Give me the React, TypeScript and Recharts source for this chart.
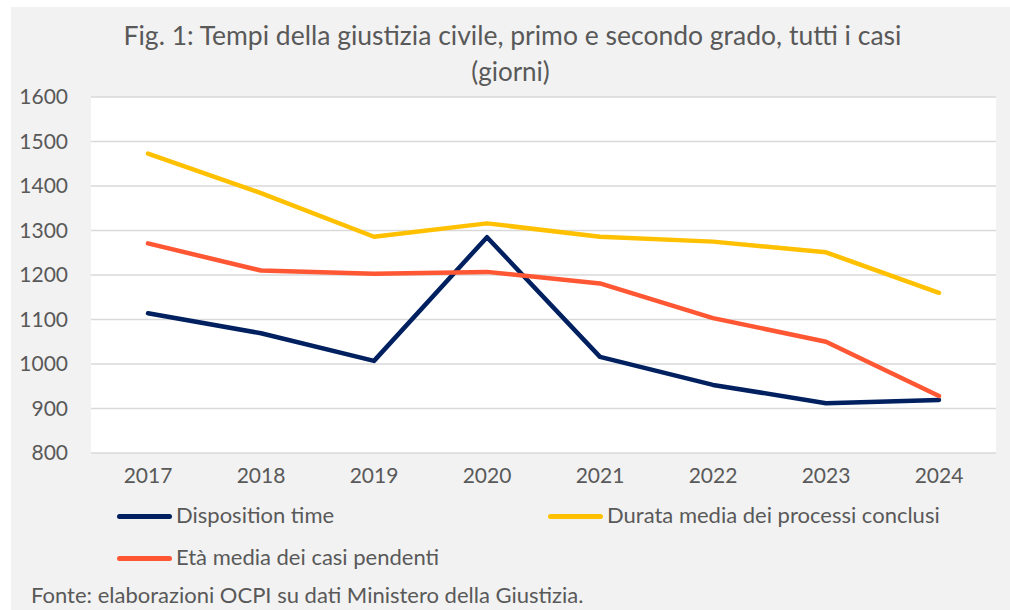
import { CartesianGrid, Legend, Line, LineChart, XAxis, YAxis } from "recharts";

const years = ["2017", "2018", "2019", "2020", "2021", "2022", "2023", "2024"];
const dispositionTime = [1114, 1069, 1007, 1285, 1016, 953, 912, 919];
const durataMedia = [1473, 1384, 1286, 1316, 1286, 1275, 1251, 1160];
const etaMedia = [1271, 1210, 1203, 1207, 1181, 1103, 1050, 928];
const yTicks = [800, 900, 1000, 1100, 1200, 1300, 1400, 1500, 1600];

const seriesNames = {
  disposition: "Disposition time",
  durata: "Durata media dei processi conclusi",
  eta: "Età media dei casi pendenti",
};

const NAVY = "#002060";
const YELLOW = "#ffc000";
const ORANGE = "#ff5733";
const TEXT = "#595959";
const FONT = "Lato, 'Open Sans', sans-serif";

const data = years.map((year, i) => ({
  year,
  disposition: dispositionTime[i],
  durata: durataMedia[i],
  eta: etaMedia[i],
}));

function LegendBox() {
  const items = [
    { label: seriesNames.disposition, color: NAVY, x: 106, y: 509 },
    { label: seriesNames.durata, color: YELLOW, x: 537, y: 509 },
    { label: seriesNames.eta, color: ORANGE, x: 106, y: 551 },
  ];
  return (
    <div style={{ position: "relative", width: 999, height: 1 }}>
      {items.map((it) => (
        <div key={it.label}>
          <div
            style={{
              position: "absolute",
              left: it.x,
              top: it.y - 2.5,
              width: 55,
              height: 5,
              borderRadius: 3,
              background: it.color,
            }}
          />
          <span
            style={{
              position: "absolute",
              left: it.x + 59,
              top: it.y - 12,
              fontSize: 22,
              lineHeight: "22px",
              color: TEXT,
              fontFamily: FONT,
              whiteSpace: "nowrap",
            }}
          >
            {it.label}
          </span>
        </div>
      ))}
    </div>
  );
}

export default function App() {
  return (
    <div style={{ position: "absolute", left: 0, top: 0, width: 1010, height: 610, background: "#fff" }}>
      <div
        style={{
          position: "absolute",
          left: 11,
          top: 7,
          width: 999,
          height: 603,
          background: "#f2f2f2",
          fontFamily: FONT,
          color: TEXT,
        }}
      >
        <div style={{ position: "absolute", left: 0, top: 14.5, width: 1003, textAlign: "center", fontSize: 26.5, lineHeight: "26.5px", whiteSpace: "nowrap" }}>
          Fig. 1: Tempi della giustizia civile, primo e secondo grado, tutti i casi
        </div>
        <div style={{ position: "absolute", left: 0, top: 50.5, width: 999, textAlign: "center", fontSize: 26, lineHeight: "26px" }}>
          (giorni)
        </div>
        <LineChart width={999} height={603} data={data} margin={{ top: 90, right: 14, left: 0, bottom: 117 }}>
          <CartesianGrid vertical={false} stroke="#d9d9d9" strokeWidth={1.5} fill="#ffffff" />
          <XAxis
            dataKey="year"
            axisLine={false}
            tickLine={false}
            tickSize={0}
            tickMargin={15}
            height={40}
            interval={0}
            padding={{ left: 57, right: 57 }}
            tick={{ fill: TEXT, fontSize: 21, fontFamily: FONT }}
          />
          <YAxis
            domain={[800, 1600]}
            ticks={yTicks}
            interval={0}
            width={80}
            axisLine={false}
            tickLine={false}
            tickSize={0}
            tickMargin={23}
            tick={{ fill: TEXT, fontSize: 21, fontFamily: FONT }}
          />
          <Legend
            verticalAlign="middle"
            align="center"
            layout="horizontal"
            wrapperStyle={{ left: 0, top: 0, width: 999 }}
            content={() => <LegendBox />}
          />
          <Line
            dataKey="disposition"
            name={seriesNames.disposition}
            stroke={NAVY}
            strokeWidth={4.5}
            strokeLinecap="round"
            strokeLinejoin="round"
            dot={false}
            activeDot={false}
            isAnimationActive={false}
          />
          <Line
            dataKey="durata"
            name={seriesNames.durata}
            stroke={YELLOW}
            strokeWidth={4.5}
            strokeLinecap="round"
            strokeLinejoin="round"
            dot={false}
            activeDot={false}
            isAnimationActive={false}
          />
          <Line
            dataKey="eta"
            name={seriesNames.eta}
            stroke={ORANGE}
            strokeWidth={4.5}
            strokeLinecap="round"
            strokeLinejoin="round"
            dot={false}
            activeDot={false}
            isAnimationActive={false}
          />
        </LineChart>
        <div style={{ position: "absolute", left: 20, top: 577, fontSize: 22, lineHeight: "22px", whiteSpace: "nowrap" }}>
          Fonte: elaborazioni OCPI su dati Ministero della Giustizia.
        </div>
      </div>
    </div>
  );
}
